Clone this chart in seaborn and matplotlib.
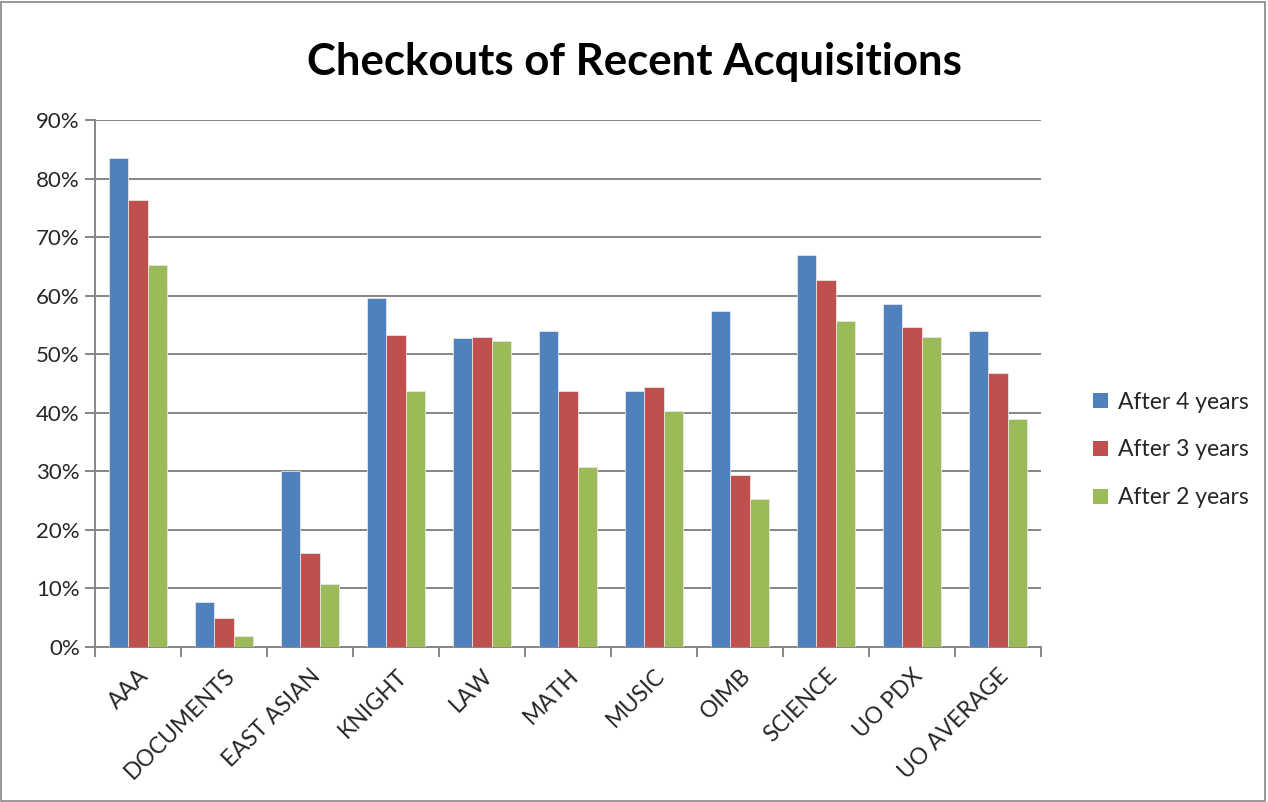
import matplotlib
matplotlib.use("Agg")
import matplotlib.pyplot as plt
import seaborn as sns
import pandas as pd
from matplotlib.ticker import FuncFormatter, FixedLocator
from matplotlib.patches import Rectangle

categories = ["AAA", "DOCUMENTS", "EAST ASIAN", "KNIGHT", "LAW", "MATH", "MUSIC",
              "OIMB", "SCIENCE", "UO PDX", "UO AVERAGE"]
series = ["After 4 years", "After 3 years", "After 2 years"]
after4 = [0.835, 0.077, 0.301, 0.596, 0.527, 0.540, 0.437, 0.574, 0.670, 0.585, 0.540]
after3 = [0.763, 0.049, 0.160, 0.533, 0.530, 0.437, 0.444, 0.293, 0.626, 0.547, 0.468]
after2 = [0.653, 0.018, 0.108, 0.437, 0.523, 0.307, 0.403, 0.252, 0.557, 0.530, 0.390]
colors = ["#4F81BD", "#C0504D", "#9BBB59"]

rows = []
for s, vals in zip(series, [after4, after3, after2]):
    for c, v in zip(categories, vals):
        rows.append({"cat": c, "val": v, "series": s})
df = pd.DataFrame(rows)

sns.set_theme(style="white")
plt.rcParams["font.family"] = ["Lato", "DejaVu Sans"]

fig = plt.figure(figsize=(12.68, 8.02), dpi=100)
ax = fig.add_axes([95 / 1268, 1 - 647 / 802, (1041 - 95) / 1268, (647 - 120) / 802])

sns.barplot(data=df, x="cat", y="val", hue="series", order=categories,
            hue_order=series, palette=colors, saturation=1, width=0.67,
            edgecolor="#e6e6e6", linewidth=0.6, ax=ax, legend=False, zorder=3)

grid_c = "#868686"
ax.set_ylim(0, 0.9)
ax.set_xlim(-0.5, len(categories) - 0.5)
ax.set_yticks([i / 10 for i in range(10)])
ax.yaxis.set_major_formatter(FuncFormatter(lambda v, p: f"{round(v * 100)}%"))
ax.grid(axis="y", color=grid_c, linewidth=1.4, zorder=0)
ax.set_axisbelow(True)
for sp in ["top", "right"]:
    ax.spines[sp].set_visible(False)
for sp in ["left", "bottom"]:
    ax.spines[sp].set_color(grid_c)
    ax.spines[sp].set_linewidth(1.4)
ax.tick_params(axis="y", which="major", direction="out", length=7, width=1.4,
               color=grid_c, labelsize=16, pad=4, left=True)
ax.set_xlabel("")
ax.set_ylabel("")

# x ticks: labels at centers, tick marks at boundaries
ax.set_xticks(range(len(categories)))
ax.set_xticklabels(categories, rotation=45, ha="right", va="top",
                   rotation_mode="anchor", fontsize=16.5)
ax.tick_params(axis="x", which="major", length=0, pad=13)
ax.xaxis.set_minor_locator(FixedLocator([i - 0.5 for i in range(len(categories) + 1)]))
ax.tick_params(axis="x", which="minor", direction="out", length=7, width=1.4,
               color=grid_c, bottom=True)

fig.text(0.5, 1 - 62 / 802, "Checkouts of Recent Acquisitions", ha="center",
         va="center", fontsize=31.5, fontweight="bold", color="black")

handles = [Rectangle((0, 0), 1, 1, facecolor=c, edgecolor="none") for c in colors]
fig.legend(handles, series, loc="center left", bbox_to_anchor=(1072 / 1268, 1 - 450 / 802),
           frameon=False, fontsize=16.5, handlelength=0.65, handleheight=0.65,
           handletextpad=0.45, labelspacing=1.17)

fig.patches.append(Rectangle((0.001, 0.001), 0.997, 0.997, transform=fig.transFigure,
                             fill=False, edgecolor="#868686", linewidth=1.2))

fig.savefig("out.png", dpi=100, facecolor="white")
